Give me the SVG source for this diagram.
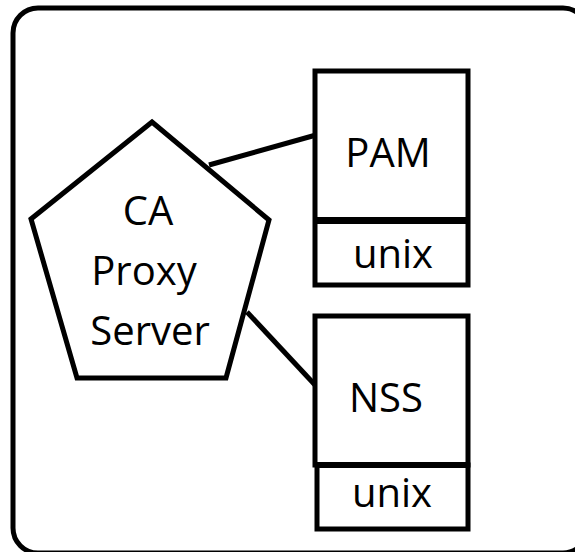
<svg xmlns="http://www.w3.org/2000/svg" width="575" height="552" viewBox="0 0 575 552">
  <style>
    .frame { fill: none; stroke: #000; stroke-width: 5; }
    .shape { fill: #fff; stroke: #000; stroke-width: 5; stroke-linejoin: miter; }
    .link { stroke: #000; stroke-width: 5; fill: none; }
    .label { font-family: "Open Sans", "Noto Sans", "Liberation Sans", sans-serif; font-size: 40px; fill: #000; text-anchor: middle; }
  </style>
  <rect width="575" height="552" fill="#fff"/>

  <!-- enclosing host boundary -->
  <rect id="host" class="frame" x="13" y="8" width="575" height="545" rx="25" ry="25"/>

  <!-- links from the proxy to the modules -->
  <g id="connectors">
    <line class="link" x1="209" y1="165" x2="316" y2="135"/>
    <line class="link" x1="247" y1="312" x2="316" y2="386"/>
  </g>

  <g id="proxy">
    <polygon class="shape" points="152,122 269,220 226,378 77,378 31,219"/>
    <text class="label" x="148" y="225">CA</text>
    <text class="label" x="144" y="285">Proxy</text>
    <text class="label" x="150" y="345">Server</text>
  </g>

  <g id="pam">
    <rect class="shape" x="315" y="71" width="153" height="214"/>
    <line class="link" x1="315" y1="220.5" x2="468" y2="220.5" style="stroke-width:7"/>
    <text class="label" x="388" y="167">PAM</text>
    <text class="label" x="393" y="268">unix</text>
  </g>

  <g id="nss">
    <rect class="shape" x="315" y="316" width="153" height="149"/>
    <rect class="shape" x="317" y="465" width="151" height="64"/>
    <line class="link" x1="315" y1="465" x2="468" y2="465" style="stroke-width:6"/>
    <text class="label" x="386" y="412">NSS</text>
    <text class="label" x="392" y="507">unix</text>
  </g>
</svg>
